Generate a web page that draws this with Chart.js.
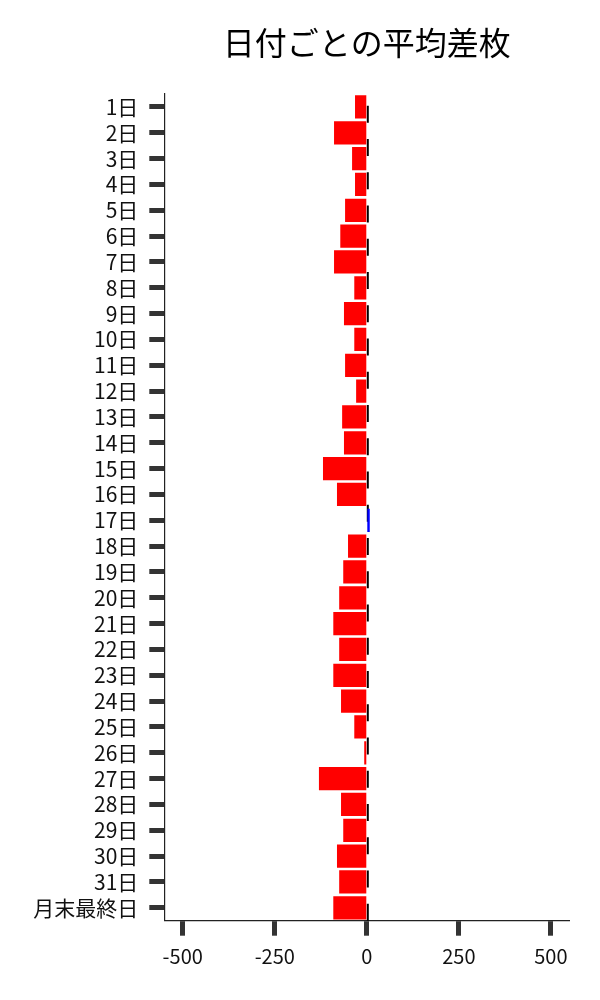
<!DOCTYPE html>
<html>
<head>
<meta charset="utf-8">
<script src="https://cdn.jsdelivr.net/npm/chart.js@4/dist/chart.umd.min.js"></script>
<style>
    body { margin: 0; background: #fff; }
    #wrap { width: 600px; height: 1000px; }
</style>
</head>
<body>
<div id="wrap"><canvas id="dayChart"></canvas></div>
<script>
const days = [
    '1日', '2日', '3日', '4日', '5日', '6日', '7日', '8日', '9日', '10日',
    '11日', '12日', '13日', '14日', '15日', '16日', '17日', '18日', '19日', '20日',
    '21日', '22日', '23日', '24日', '25日', '26日', '27日', '28日', '29日', '30日',
    '31日', '月末最終日'
];
const avgDiff = [
    -32, -89, -40, -32, -59, -72, -89, -34, -62, -34,
    -59, -29, -67, -62, -119, -81, 8, -51, -64, -75,
    -91, -75, -91, -70, -34, -7, -130, -70, -64, -81,
    -75, -91
];
const xTicks = [-500, -250, 0, 250, 500];
const chartTitle = '日付ごとの平均差枚';

const FONT = "'Noto Sans CJK JP', 'Noto Sans', sans-serif";

// dashed zero line, drawn behind the bars
const zeroLine = {
    id: 'zeroLine',
    beforeDatasetsDraw(chart) {
        const { ctx, chartArea, scales } = chart;
        const x0 = scales.x.getPixelForValue(0) + 1;
        ctx.save();
        ctx.strokeStyle = '#000';
        ctx.lineWidth = 2;
        ctx.setLineDash([17, 16.25]);
        ctx.beginPath();
        ctx.moveTo(x0, chartArea.bottom);
        ctx.lineTo(x0, chartArea.top);
        ctx.stroke();
        ctx.restore();
    }
};

// title centred over the plot area
const areaTitle = {
    id: 'areaTitle',
    afterDraw(chart) {
        const { ctx, chartArea } = chart;
        ctx.save();
        ctx.font = '32px ' + FONT;
        ctx.fillStyle = '#000';
        ctx.textAlign = 'center';
        ctx.textBaseline = 'middle';
        ctx.fillText(chartTitle, (chartArea.left + chartArea.right) / 2, 43);
        ctx.restore();
    }
};

new Chart(document.getElementById('dayChart'), {
    type: 'bar',
    data: {
        labels: days,
        datasets: [{
            label: '平均差枚',
            data: avgDiff,
            backgroundColor: avgDiff.map(v => v < 0 ? '#ff0000' : '#0000ff'),
            borderWidth: 0,
            barPercentage: 0.9,
            categoryPercentage: 1.0
        }]
    },
    options: {
        indexAxis: 'y',
        responsive: true,
        maintainAspectRatio: false,
        animation: false,
        layout: {
            padding: { top: 94, right: 30.7, bottom: 19.3, left: 0 }
        },
        plugins: {
            legend: { display: false },
            tooltip: { enabled: false }
        },
        scales: {
            x: {
                min: -550,
                max: 550,
                afterBuildTicks: scale => {
                    scale.ticks = xTicks.map(v => ({ value: v }));
                },
                afterFit: scale => { scale.height = 60; },
                grid: {
                    drawOnChartArea: false,
                    tickLength: 15,
                    tickWidth: 5,
                    tickColor: '#333'
                },
                border: { color: '#222', width: 1.2 },
                ticks: {
                    color: '#111',
                    padding: 9,
                    maxRotation: 0,
                    font: { family: FONT, size: 20 }
                }
            },
            y: {
                afterFit: scale => { scale.width = 164.3; },
                grid: {
                    offset: false,
                    drawOnChartArea: false,
                    tickLength: 15,
                    tickWidth: 5,
                    tickColor: '#333'
                },
                border: { color: '#222', width: 1.2 },
                ticks: {
                    color: '#111',
                    padding: 11,
                    autoSkip: false,
                    font: { family: FONT, size: 21 }
                }
            }
        }
    },
    plugins: [zeroLine, areaTitle]
});
</script>
</body>
</html>
